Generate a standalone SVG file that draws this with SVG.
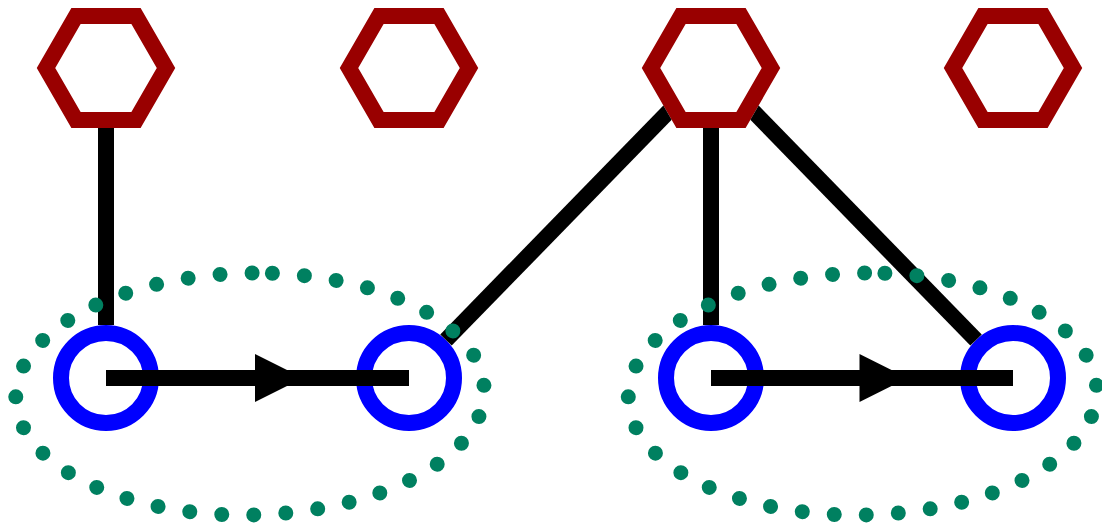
<svg xmlns="http://www.w3.org/2000/svg" xmlns:xlink="http://www.w3.org/1999/xlink" width="1102" height="524" viewBox="0 0 1102 524">
  <style>
    .hex { fill: #ffffff; stroke: #990000; stroke-width: 16; stroke-linejoin: miter; }
    .ring { fill: #ffffff; stroke: #0000ff; stroke-width: 16; }
    .link { fill: none; stroke: #000000; stroke-width: 16; stroke-linecap: butt; }
    .arrow { fill: none; stroke: #000000; stroke-width: 16; stroke-linecap: butt; marker-mid: url(#head); }
    .cluster { fill: none; stroke: #008060; stroke-width: 15; stroke-linecap: round; stroke-dasharray: 0 32.1; }
  </style>
  <defs>
    <!-- regular hexagon, flat top, radius 60 -->
    <path id="hexagon" d="M-60,0 L-30,-52 L30,-52 L60,0 L30,52 L-30,52 Z"/>
    <marker id="head" markerUnits="userSpaceOnUse" viewBox="-5 -30 60 60" markerWidth="60" markerHeight="60" refX="2.5" refY="0" orient="auto" overflow="visible">
      <path d="M0,-24 L48,0 L0,24 Z" fill="#000000"/>
    </marker>
    <!-- hides link segments where they pass beneath a hexagon -->
    <mask id="hex-cutout" maskUnits="userSpaceOnUse" x="0" y="0" width="1102" height="524">
      <rect x="0" y="0" width="1102" height="524" fill="#ffffff"/>
      <use xlink:href="#hexagon" href="#hexagon" x="106" y="68" fill="#000000" stroke="#000000" stroke-width="16"/>
      <use xlink:href="#hexagon" href="#hexagon" x="711" y="68" fill="#000000" stroke="#000000" stroke-width="16"/>
    </mask>
  </defs>

  <g id="nodes">
    <g id="h1"><use xlink:href="#hexagon" href="#hexagon" class="hex" x="106" y="68"/></g>
    <g id="h2"><use xlink:href="#hexagon" href="#hexagon" class="hex" x="409" y="68"/></g>
    <g id="h3"><use xlink:href="#hexagon" href="#hexagon" class="hex" x="711" y="68"/></g>
    <g id="h4"><use xlink:href="#hexagon" href="#hexagon" class="hex" x="1013" y="68"/></g>
    <g id="c1"><circle class="ring" cx="106" cy="378" r="45"/></g>
    <g id="c2"><circle class="ring" cx="409" cy="378" r="45"/></g>
    <g id="c3"><circle class="ring" cx="711" cy="378" r="45"/></g>
    <g id="c4"><circle class="ring" cx="1013" cy="378" r="45"/></g>
  </g>

  <g id="connectors">
    <g mask="url(#hex-cutout)">
      <line class="link" x1="106" y1="68" x2="106" y2="325"/>
      <line class="link" x1="711" y1="68" x2="445.98" y2="340.04"/>
      <line class="link" x1="711" y1="68" x2="711" y2="325"/>
      <line class="link" x1="711" y1="68" x2="976.02" y2="340.04"/>
    </g>
    <path class="arrow" d="M106,378 H257.5 H409"/>
    <path class="arrow" d="M711,378 H862 H1013"/>
  </g>

  <g id="clusters">
    <path id="cluster-left" class="cluster" transform="rotate(-1 250 394)"
          d="M274.5,273.66 A235,121 0 0 1 225.5,514.34 A235,121 0 0 1 274.5,273.66 Z"/>
    <path id="cluster-right" class="cluster" transform="rotate(-1 862.5 394)"
          d="M887,273.66 A235,121 0 0 1 838,514.34 A235,121 0 0 1 887,273.66 Z"/>
  </g>
</svg>
